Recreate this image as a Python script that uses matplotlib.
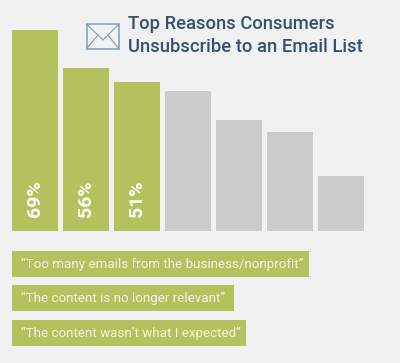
import matplotlib
matplotlib.use("Agg")
import matplotlib.pyplot as plt
from matplotlib.patches import Rectangle

# Valores
values = [69, 56, 51, 48, 38, 34, 19]
bar_labels = ["69%", "56%", "51%"]
reasons = [
    "\u201cToo many emails from the business/nonprofit\u201d",
    "\u201cThe content is no longer relevant\u201d",
    "\u201cThe content wasn\u2019t what I expected\u201d",
]
reason_widths = [297, 222, 234]
title_lines = ["Top Reasons Consumers", "Unsubscribe to an Email List"]

GREEN = "#b3c25c"
GREY = "#cbcbcb"
BG = "#f1f1f1"
NAVY = "#34506f"
W, H = 400, 363

plt.rcParams["font.family"] = ["Roboto", "DejaVu Sans"]

fig = plt.figure(figsize=(W / 100, H / 100), dpi=100, facecolor=BG)

# Barras: el eje llega hasta la linea base en y=231 px
ax = fig.add_axes([9.5 / W, (H - 231) / H, 357 / W, 231 / H])
ax.set_axis_off()
ax.set_xlim(-0.5, 6.5)
ax.set_ylim(0, 79.3)
colors = [GREEN if i < len(bar_labels) else GREY for i in range(len(values))]
ax.bar(range(len(values)), values, width=0.9, color=colors, edgecolor="none")
for i, lab in enumerate(bar_labels):
    ax.text(i, 4.7, lab, rotation=90, ha="center", va="bottom", color="white",
            fontsize=14, fontweight="bold")

# Capa en pixeles para titulo, icono y etiquetas
ov = fig.add_axes([0, 0, 1, 1])
ov.set_axis_off()
ov.set_xlim(0, W)
ov.set_ylim(H, 0)
ov.patch.set_alpha(0)

ov.text(128, 24, title_lines[0], color=NAVY, fontsize=13.2, fontweight="medium", va="center")
ov.text(128, 47, title_lines[1], color=NAVY, fontsize=13.2, fontweight="medium", va="center")

# Sobre
env = "#7f9cbc"
ov.add_patch(Rectangle((86.5, 24), 32.5, 25, fill=False, edgecolor=env, linewidth=1.1))
ov.plot([86.5, 103, 119], [24, 40, 24], color=env, lw=0.8)
ov.plot([86.5, 98], [49, 35], color=env, lw=0.8)
ov.plot([119, 108], [49, 35], color=env, lw=0.8)

# Etiquetas verdes
tops = [251, 285, 320]
for text, w, top in zip(reasons, reason_widths, tops):
    ov.add_patch(Rectangle((12, top), w, 26, facecolor=GREEN, edgecolor="none"))
    ov.text(21, top + 13.5, text, color="#f4f6e6", fontsize=9.65, va="center")

fig.savefig("out.png", dpi=100, facecolor=BG)
